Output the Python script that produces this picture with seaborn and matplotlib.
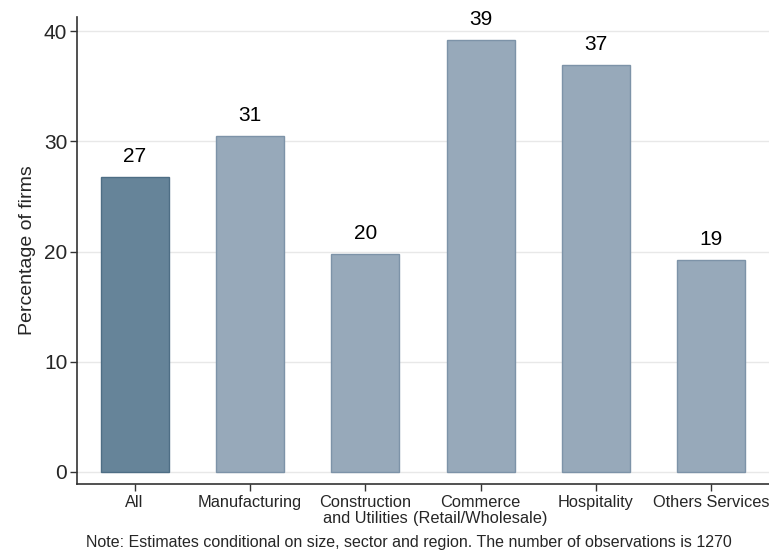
import pandas as pd
import seaborn as sns
import matplotlib.pyplot as plt

sectors = ['All', 'Manufacturing', 'Construction\nand Utilities',
           'Commerce\n(Retail/Wholesale)', 'Hospitality', 'Others Services']
pct_firms = [26.8, 30.5, 19.8, 39.2, 36.9, 19.2]
bar_labels = ['27', '31', '20', '39', '37', '19']
y_ticks = [0, 10, 20, 30, 40]

sns.set_theme(style='white')
plt.rcParams['font.family'] = ['Liberation Sans', 'DejaVu Sans']


def main():
    df = pd.DataFrame({'Sector': sectors, 'Percent': pct_firms})
    colors = ['#668499'] + ['#97a9ba'] * (len(sectors) - 1)

    fig = plt.figure(figsize=(7.69, 5.57), dpi=100)
    ax = fig.add_axes([0.1001, 0.131, 0.8999, 0.8385])
    sns.barplot(data=df, x='Sector', y='Percent', hue='Sector',
                palette=colors, legend=False, width=0.59, saturation=1,
                ax=ax, zorder=3)
    edges = ['#4e6e85'] + ['#7d93a8'] * (len(sectors) - 1)
    for patch, ec in zip(ax.patches, edges):
        patch.set_edgecolor(ec)
        patch.set_linewidth(1.0)
    for patch, lab in zip(ax.patches, bar_labels):
        ax.text(patch.get_x() + patch.get_width() / 2,
                patch.get_height() + 1.0, lab, ha='center', va='bottom',
                fontsize=15, color='black')

    ax.set_xlim(-0.5, 5.5)
    ax.set_ylim(-1.1, 41.3)
    ax.set_yticks(y_ticks)
    ax.yaxis.grid(True, color='#e8e8e8', linewidth=1.0, zorder=0)
    ax.set_axisbelow(True)
    for side in ['top', 'right']:
        ax.spines[side].set_visible(False)
    for side in ['left', 'bottom']:
        ax.spines[side].set_color('#333333')
        ax.spines[side].set_linewidth(1.2)
    ax.tick_params(axis='both', which='both', length=5, width=1.0,
                   color='#333333', left=True, bottom=True)
    ax.tick_params(axis='y', labelsize=15, pad=2)
    ax.tick_params(axis='x', labelsize=11.8, pad=3)
    for lbl in ax.get_xticklabels():
        lbl.set_linespacing(1.05)
    ax.set_xlabel('')
    ax.set_ylabel('Percentage of firms', fontsize=14, labelpad=6)

    fig.text(0.532, 0.012, 'Note: Estimates conditional on size, sector and '
             'region. The number of observations is 1270',
             ha='center', va='bottom', fontsize=11.5)
    fig.savefig('out.png', dpi=100)


if __name__ == '__main__':
    main()
